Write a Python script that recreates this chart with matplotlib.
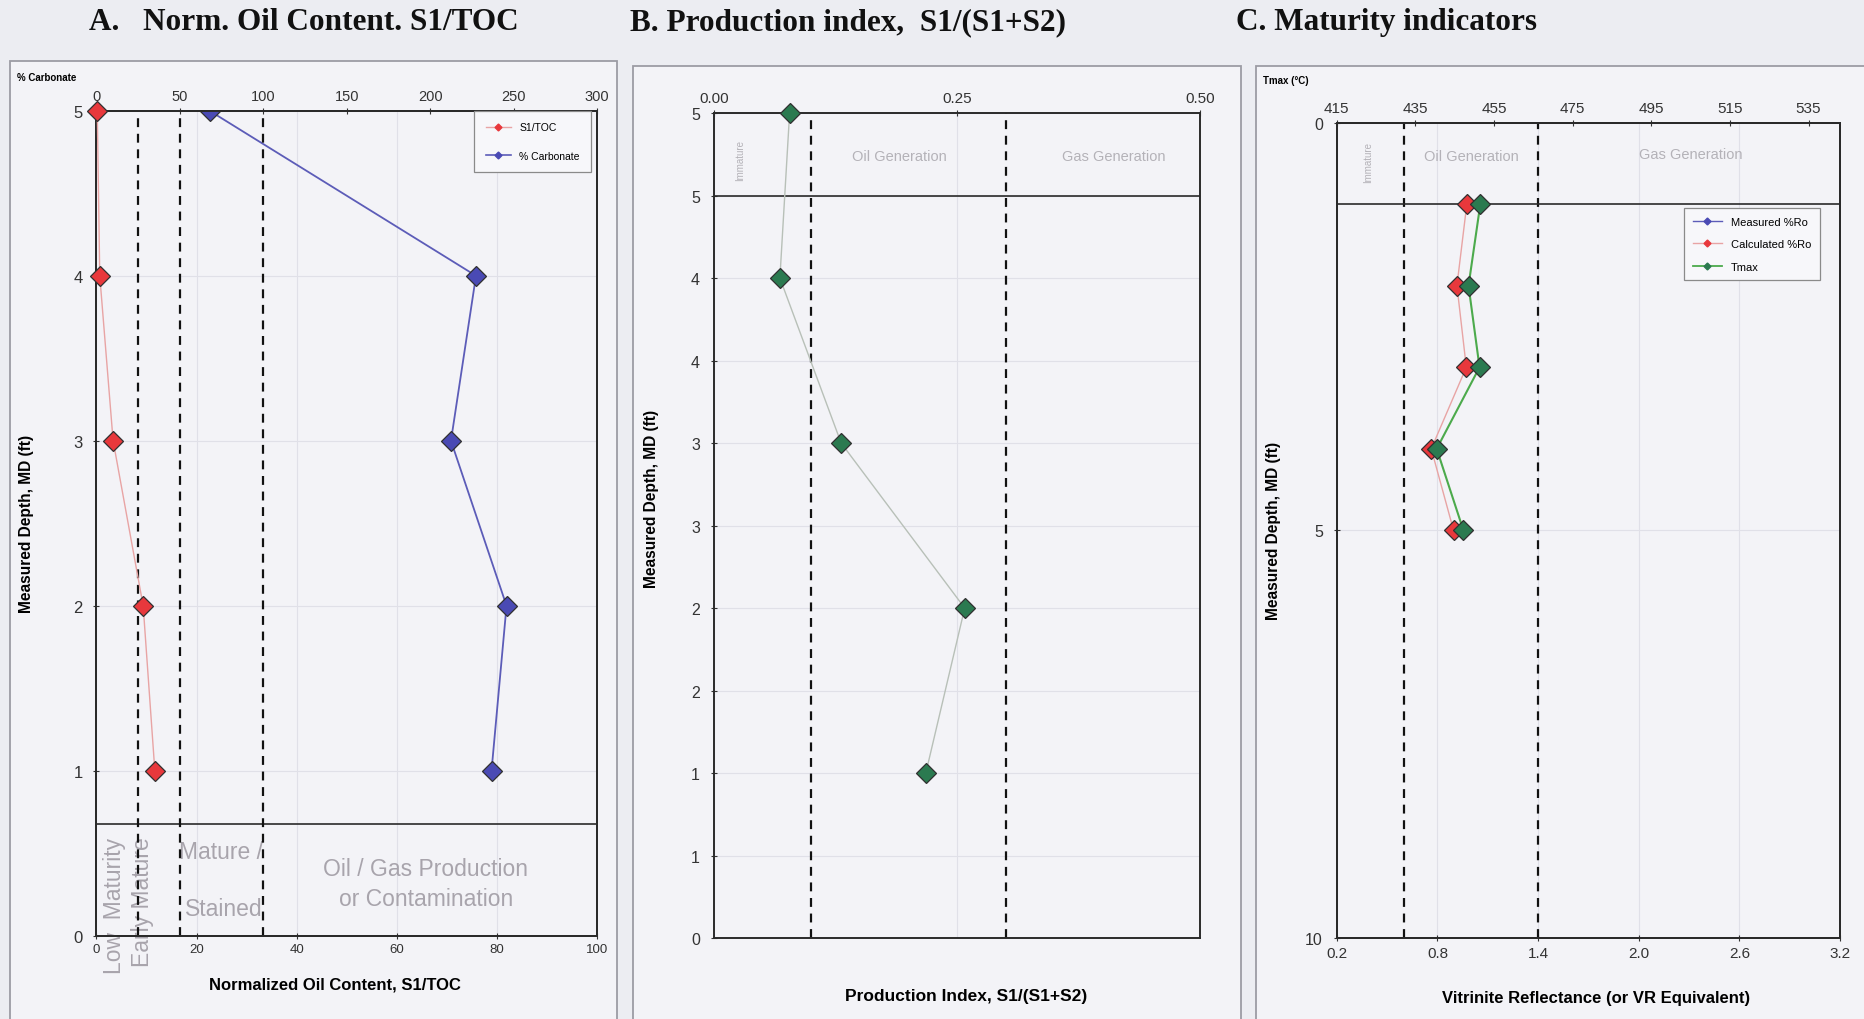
import math
import numpy as np
import matplotlib
matplotlib.use("Agg")
import matplotlib.pyplot as plt
from matplotlib.patches import Rectangle
from matplotlib.lines import Line2D
from matplotlib.ticker import FuncFormatter, MultipleLocator, FixedLocator

plt.rcParams['font.family'] = ['Liberation Sans', 'DejaVu Sans']

# ---------------- data ----------------
depth_ab = [5, 4, 3, 2, 1]
s1_toc = [0.5, 2, 10, 28, 35]                 # S1/TOC (top scale, 0-300)
carbonate = [22.6, 75.8, 70.8, 81.9, 78.9]    # % carbonate (bottom scale, 0-100)
s1toc_limits = [25, 50, 100]

prod_index = [0.078, 0.068, 0.131, 0.258, 0.218]
pi_limits = [0.1, 0.3]

depth_c = [1, 2, 3, 4, 5]
calc_ro = [0.975, 0.916, 0.972, 0.763, 0.896]
meas_ro = []
tmax = [451.5, 448.5, 451.3, 440.4, 447.2]
ro_limits = [0.6, 1.4]

ro_ticks = [0.2, 0.8, 1.4, 2.0, 2.6, 3.2]
tmax_ticks = [415, 435, 455, 475, 495, 515, 535]

titles = ["A.   Norm. Oil Content. S1/TOC",
          "B. Production index,  S1/(S1+S2)",
          "C. Maturity indicators"]

# ---------------- style ----------------
BG = '#ecedf2'
FRAME_FACE = '#f3f3f7'
FRAME_EDGE = '#9c9ca4'
SPINE = '#2a2a2a'
ZONE_TXT = '#b4b2b8'
BIG_ZONE_TXT = '#a8a4ac'
GRID = '#e0e0e8'
RED_FACE, RED_LINE = '#e8383c', '#e8a4a4'
BLUE_FACE, BLUE_LINE = '#4a4ab4', '#5c5cb8'
GREEN_FACE, GREEN_LINE = '#2b7a50', '#4caa4c'
PI_LINE = '#b8c0b8'
MK = dict(marker='D', markersize=10, markeredgecolor='#303030', markeredgewidth=0.9)
LABEL_KW = dict(fontsize=12, weight='bold')
YLABEL_KW = dict(fontsize=11.2, weight='bold')

fig = plt.figure(figsize=(18.65, 10.2), dpi=100, facecolor=BG)

# panel frames
for x0, x1, top in [(0.0051, 0.331, 0.9394), (0.3393, 0.6652, 0.9347), (0.6735, 1.01, 0.9347)]:
    fig.patches.append(Rectangle((x0, -0.02), x1 - x0, top + 0.02, transform=fig.transFigure,
                                 facecolor=FRAME_FACE, edgecolor=FRAME_EDGE, lw=1.3, zorder=-10))

for x, t in zip([0.0478, 0.338, 0.663], titles):
    fig.text(x, 0.978, t, family=['Liberation Serif', 'DejaVu Serif'], weight='bold',
             fontsize=22.5, va='center', ha='left', color='#111111')


def style_axes(ax):
    ax.set_facecolor('none')
    for s in ax.spines.values():
        s.set_color(SPINE)
        s.set_linewidth(1.4)


def dashed(ax, x):
    ax.axvline(x, color='#111111', lw=1.6, ls=(0, (4, 3)), zorder=2)


# ================= Panel A =================
axA = fig.add_axes([0.0517, 0.0816, 0.2685, 0.8088])
style_axes(axA)
axA.set_xlim(0, 100)
axA.set_ylim(0, 5)
axA.yaxis.set_major_locator(MultipleLocator(1))
axA.xaxis.set_major_locator(MultipleLocator(20))
axA.tick_params(axis='x', labelsize=9.5, length=4, direction='inout', colors='#333333')
axA.tick_params(axis='y', labelsize=12, length=4, direction='inout', colors='#333333', pad=8)
axA.grid(True, color=GRID, lw=0.8, zorder=0)
axA.plot(carbonate, depth_ab, color=BLUE_LINE, lw=1.3, markerfacecolor=BLUE_FACE, zorder=4, **MK)
axA.axhline(0.68, color=SPINE, lw=1.2, zorder=3)
axA.set_xlabel("Normalized Oil Content, S1/TOC", **LABEL_KW)
axA.xaxis.set_label_coords(0.477, -0.059)
axA.xaxis.label.set_va('center')
axA.set_ylabel("Measured Depth, MD (ft)", **YLABEL_KW)
axA.yaxis.set_label_coords(-0.14, 0.5)
axA.yaxis.label.set_va('center')

axA2 = axA.twiny()
style_axes(axA2)
axA2.set_xlim(0, 300)
axA2.xaxis.set_major_locator(MultipleLocator(50))
axA2.tick_params(axis='x', labelsize=10.5, length=4, direction='inout', colors='#333333')
for v in s1toc_limits:
    dashed(axA2, v)
axA2.plot(s1_toc, depth_ab, color=RED_LINE, lw=1.0, markerfacecolor=RED_FACE, zorder=5,
          clip_on=False, **MK)

zone_kw = dict(color=BIG_ZONE_TXT, fontsize=16.5, clip_on=False)
axA.text(3.6, 0.187, "Low  Maturity", rotation=90, ha='center', va='center', **zone_kw)
axA.text(9.3, 0.209, "Early Mature", rotation=90, ha='center', va='center', **zone_kw)
axA.text(16.4, 0.51, "Mature /", ha='left', va='center', **zone_kw)
axA.text(17.6, 0.166, "Stained", ha='left', va='center', **zone_kw)
axA.text(65.8, 0.41, "Oil / Gas Production", ha='center', va='center', **zone_kw)
axA.text(65.8, 0.223, "or Contamination", ha='center', va='center', **zone_kw)

legA = [Line2D([], [], color=RED_LINE, lw=1.0, marker='D', markersize=3.5,
               markerfacecolor=RED_FACE, markeredgecolor=RED_FACE, label="S1/TOC"),
        Line2D([], [], color=BLUE_LINE, lw=1.2, marker='D', markersize=3.5,
               markerfacecolor=BLUE_FACE, markeredgecolor=BLUE_FACE, label="% Carbonate")]
lg = axA2.legend(handles=legA, loc='upper right', bbox_to_anchor=(0.988, 1.0), fontsize=7.5,
                 frameon=True, fancybox=False, edgecolor='#8a8a8a', facecolor='#f7f7fa',
                 framealpha=1, labelspacing=1.8, handlelength=2.4, borderpad=1.1,
                 borderaxespad=0.0, numpoints=1)
lg.get_frame().set_linewidth(0.9)
fig.text(0.0089, 0.924, "% Carbonate", fontsize=7, weight='bold', ha='left', va='center')

# ================= Panel B =================
axB = fig.add_axes([0.3827, 0.0793, 0.2608, 0.8089])
style_axes(axB)
axB.set_xlim(0, 0.5)
axB.set_ylim(0, 5)
axB.xaxis.tick_top()
axB.xaxis.set_label_position('bottom')
axB.xaxis.set_major_locator(MultipleLocator(0.25))
axB.xaxis.set_major_formatter(FuncFormatter(lambda v, _: f"{v:.2f}"))
axB.yaxis.set_major_locator(MultipleLocator(0.5))
axB.yaxis.set_major_formatter(FuncFormatter(lambda v, _: str(int(math.floor(v + 0.5)))))
axB.tick_params(axis='x', labelsize=11, length=4, direction='inout', colors='#333333')
axB.tick_params(axis='y', labelsize=11.5, length=4, direction='inout', colors='#333333', pad=8)
axB.grid(True, color=GRID, lw=0.8, zorder=0)
for v in pi_limits:
    dashed(axB, v)
axB.axhline(4.5, color=SPINE, lw=1.2, zorder=3)
axB.plot(prod_index, depth_ab, color=PI_LINE, lw=1.0, markerfacecolor=GREEN_FACE, zorder=5,
         clip_on=False, **MK)
axB.text(0.027, 4.72, "Immature", rotation=90, ha='center', va='center', fontsize=7, color=ZONE_TXT)
axB.text(0.191, 4.74, "Oil Generation", ha='center', va='center', fontsize=10.5, color=ZONE_TXT)
axB.text(0.411, 4.74, "Gas Generation", ha='center', va='center', fontsize=10.5, color=ZONE_TXT)
axB.set_xlabel("Production Index, S1/(S1+S2)", fontsize=12.5, weight='bold')
axB.xaxis.set_label_coords(0.518, -0.069)
axB.xaxis.label.set_va('center')
axB.set_ylabel("Measured Depth, MD (ft)", **YLABEL_KW)
axB.yaxis.set_label_coords(-0.127, 0.533)
axB.yaxis.label.set_va('center')

# ================= Panel C =================
axC = fig.add_axes([0.7168, 0.0793, 0.2698, 0.7995])
style_axes(axC)
axC.set_xlim(0.2, 3.2)
axC.set_ylim(10, 0)
axC.xaxis.set_major_locator(FixedLocator(ro_ticks))
axC.xaxis.set_major_formatter(FuncFormatter(lambda v, _: f"{v:.1f}"))
axC.yaxis.set_major_locator(MultipleLocator(5))
axC.tick_params(axis='x', labelsize=11, length=4, direction='inout', colors='#333333')
axC.tick_params(axis='y', labelsize=11.5, length=4, direction='inout', colors='#333333', pad=8)
axC.grid(True, color=GRID, lw=0.8, zorder=0)
for v in ro_limits:
    dashed(axC, v)
axC.axhline(1.0, color=SPINE, lw=1.2, zorder=3)
axC.plot(meas_ro, [], color=BLUE_LINE, lw=1.0, markerfacecolor=BLUE_FACE, **MK)
axC.plot(calc_ro, depth_c, color=RED_LINE, lw=1.0, markerfacecolor=RED_FACE, zorder=5, **MK)
axC.text(0.384, 0.48, "Immature", rotation=90, ha='center', va='center', fontsize=7, color=ZONE_TXT)
axC.text(1.0, 0.41, "Oil Generation", ha='center', va='center', fontsize=10.5, color=ZONE_TXT)
axC.text(2.31, 0.38, "Gas Generation", ha='center', va='center', fontsize=10.5, color=ZONE_TXT)
axC.set_xlabel("Vitrinite Reflectance (or VR Equivalent)", **LABEL_KW)
axC.xaxis.set_label_coords(0.515, -0.073)
axC.xaxis.label.set_va('center')
axC.set_ylabel("Measured Depth, MD (ft)", **YLABEL_KW)
axC.yaxis.set_label_coords(-0.125, 0.5)
axC.yaxis.label.set_va('center')

axC2 = axC.twiny()
style_axes(axC2)
axC2.set_xlim(415, 543)
axC2.xaxis.set_major_locator(FixedLocator(tmax_ticks))
axC2.tick_params(axis='x', labelsize=11, length=4, direction='inout', colors='#333333')
axC2.plot(tmax, depth_c, color=GREEN_LINE, lw=1.5, markerfacecolor=GREEN_FACE, zorder=6, **MK)

legC = [Line2D([], [], color=BLUE_LINE, lw=1.0, marker='D', markersize=3.5,
               markerfacecolor=BLUE_FACE, markeredgecolor=BLUE_FACE, label="Measured %Ro"),
        Line2D([], [], color=RED_LINE, lw=1.0, marker='D', markersize=3.5,
               markerfacecolor=RED_FACE, markeredgecolor=RED_FACE, label="Calculated %Ro"),
        Line2D([], [], color=GREEN_LINE, lw=1.3, marker='D', markersize=3.5,
               markerfacecolor=GREEN_FACE, markeredgecolor=GREEN_FACE, label="Tmax")]
lg2 = axC2.legend(handles=legC, loc='upper right', bbox_to_anchor=(0.96, 0.895), fontsize=8,
                  frameon=True, fancybox=False, edgecolor='#8a8a8a', facecolor='#f7f7fa',
                  framealpha=1, labelspacing=1.1, handlelength=2.6, borderpad=0.8,
                  borderaxespad=0.0, numpoints=1)
lg2.get_frame().set_linewidth(0.9)
fig.text(0.677, 0.921, "Tmax (\u00b0C)", fontsize=7, weight='bold', ha='left', va='center')

fig.savefig("out.png", dpi=100, facecolor=BG)
